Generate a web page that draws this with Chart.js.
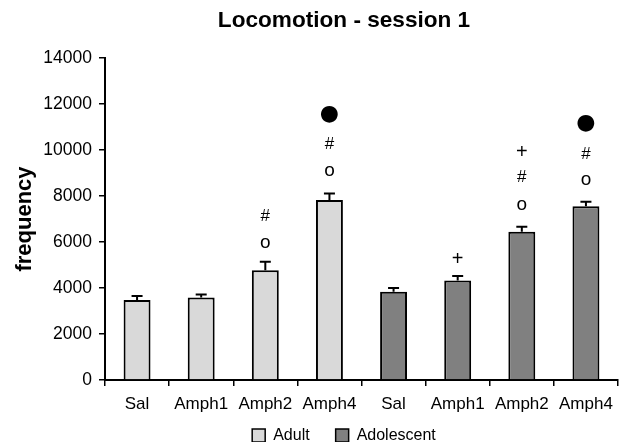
<!DOCTYPE html>
<html>
<head>
<meta charset="utf-8">
<script src="https://cdn.jsdelivr.net/npm/chart.js@4.4.1/dist/chart.umd.min.js"></script>
<style>
  html, body { margin: 0; padding: 0; background: #fff; }
  #wrap { width: 628px; height: 442px; }
</style>
</head>
<body>
<div id="wrap"><canvas id="chart"></canvas></div>
<script>
const categories = ["Sal", "Amph1", "Amph2", "Amph4", "Sal", "Amph1", "Amph2", "Amph4"];
const adultMean = [3480, 3590, 4770, 7830, null, null, null, null];
const adultSem = [170, 130, 370, 280, null, null, null, null];
const adolMean = [null, null, null, null, 3840, 4330, 6450, 7560];
const adolSem = [null, null, null, null, 160, 190, 210, 190];
const yTicks = [0, 2000, 4000, 6000, 8000, 10000, 12000, 14000];

// significance symbols above the bars, and the level where each sits
const markSymbols = [[], [], ["o", "#"], ["o", "#", "●"], [], ["+"], ["o", "#", "+"], ["o", "#", "●"]];
const markLevels = [[], [], [5970, 7130], [9115, 10250, 11550], [], [5245], [7600, 8800, 9900], [8700, 9830, 11150]];

const FONT = "'Liberation Sans', Arial, sans-serif";

// scales whose tick labels may run outside their box
class OpenLinear extends Chart.LinearScale {
  _computeLabelArea() { return undefined; }
}
OpenLinear.id = "openLinear";
class OpenCategory extends Chart.CategoryScale {
  _computeLabelArea() { return undefined; }
}
OpenCategory.id = "openCategory";
Chart.register(OpenLinear, OpenCategory);

// error bars (upper only)
const errorBars = {
  id: "errorBars",
  afterDatasetsDraw(chart) {
    const ctx = chart.ctx;
    const y = chart.scales.y;
    const sems = [adultSem, adolSem];
    ctx.save();
    ctx.strokeStyle = "#000";
    ctx.lineWidth = 2;
    chart.data.datasets.forEach((ds, di) => {
      const meta = chart.getDatasetMeta(di);
      meta.data.forEach((bar, i) => {
        if (ds.data[i] == null) return;
        const top = y.getPixelForValue(ds.data[i] + sems[di][i]);
        ctx.beginPath();
        ctx.moveTo(bar.x, bar.y);
        ctx.lineTo(bar.x, top);
        ctx.moveTo(bar.x - 5.5, top);
        ctx.lineTo(bar.x + 5.5, top);
        ctx.stroke();
      });
    });
    ctx.restore();
  }
};

// symbols
const sigMarks = {
  id: "sigMarks",
  afterDatasetsDraw(chart) {
    const ctx = chart.ctx;
    const x = chart.scales.x;
    const y = chart.scales.y;
    ctx.save();
    ctx.fillStyle = "#000";
    ctx.textAlign = "center";
    ctx.textBaseline = "middle";
    markSymbols.forEach((syms, i) => {
      syms.forEach((s, k) => {
        const px = x.getPixelForValue(i);
        const py = y.getPixelForValue(markLevels[i][k]);
        if (s === "●") ctx.font = "22px 'DejaVu Sans', sans-serif";
        else if (s === "+") ctx.font = "20px " + FONT;
        else if (s === "o") ctx.font = "19px " + FONT;
        else ctx.font = "17px " + FONT;
        ctx.fillText(s, px, py);
      });
    });
    ctx.restore();
  }
};

new Chart(document.getElementById("chart"), {
  type: "bar",
  data: {
    labels: categories,
    datasets: [
      {
        label: "Adult",
        data: adultMean,
        backgroundColor: "#d9d9d9",
        borderColor: "#000",
        borderWidth: 2,
        barPercentage: 0.42,
        categoryPercentage: 1
      },
      {
        label: "Adolescent",
        data: adolMean,
        backgroundColor: "#808080",
        borderColor: "#000",
        borderWidth: 2,
        barPercentage: 0.42,
        categoryPercentage: 1
      }
    ]
  },
  options: {
    responsive: true,
    maintainAspectRatio: false,
    animation: false,
    grouped: false,
    layout: { padding: { left: 70, right: 10, top: 0, bottom: -11.5 } },
    plugins: {
      title: {
        display: true,
        text: "Locomotion - session 1",
        color: "#000",
        font: { family: FONT, size: 22.6, weight: "bold" },
        padding: { top: 7, bottom: 23.9 }
      },
      legend: {
        position: "bottom",
        labels: {
          color: "#000",
          font: { family: FONT, size: 16 },
          boxWidth: 13,
          boxHeight: 13,
          padding: 26,
          generateLabels(chart) {
            return chart.data.datasets.map((ds, i) => ({
              text: ds.label,
              fillStyle: ds.backgroundColor,
              strokeStyle: "#000",
              lineWidth: 1.5,
              datasetIndex: i
            }));
          }
        }
      },
      tooltip: { enabled: false }
    },
    scales: {
      x: {
        type: "openCategory",
        grid: { drawOnChartArea: false, drawTicks: true, tickLength: 6, color: "#000", lineWidth: 1.5, offset: true },
        border: { color: "#000", width: 2 },
        ticks: { color: "#000", font: { family: FONT, size: 17 }, padding: 8, maxRotation: 0, autoSkip: false },
        afterFit(scale) { scale.height = 21.5; }
      },
      y: {
        type: "openLinear",
        min: 0,
        max: 14000,
        afterBuildTicks(scale) { scale.ticks = yTicks.map(v => ({ value: v })); },
        grid: { drawOnChartArea: false, drawTicks: true, tickLength: 6, color: "#000", lineWidth: 1.5 },
        border: { color: "#000", width: 2 },
        ticks: { color: "#000", font: { family: FONT, size: 17.5 }, padding: 7, callback: v => String(v) },
        title: {
          display: true,
          text: "frequency",
          color: "#000",
          font: { family: FONT, size: 22, weight: "bold" },
          padding: { top: -58, bottom: 0 }
        },
        afterFit(scale) { scale.width = 35; }
      }
    }
  },
  plugins: [errorBars, sigMarks]
});
</script>
</body>
</html>
